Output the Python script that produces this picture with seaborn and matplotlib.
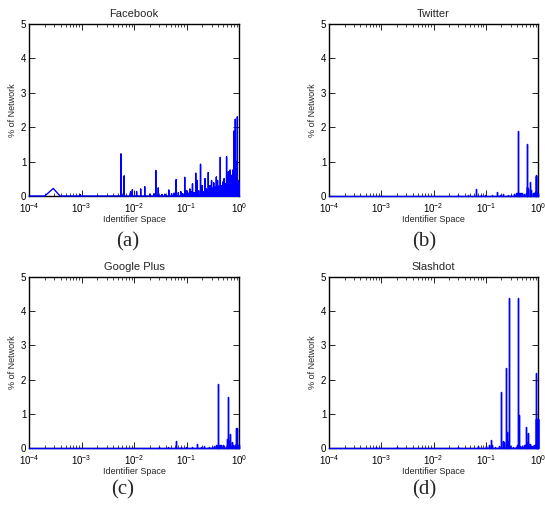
import numpy as np
import pandas as pd
import matplotlib
matplotlib.use("Agg")
import matplotlib.pyplot as plt
from matplotlib.ticker import LogLocator, NullFormatter
import seaborn as sns

# ==========================================
# 1. DADOS
# ==========================================
# Facebook: picos (posição no espaço de identificadores, % da rede)
fb_x = [0.00095, 0.00565, 0.0065, 0.0086, 0.0093, 0.0112, 0.0134, 0.016, 0.020, 0.024,
        0.026, 0.029, 0.034, 0.0389, 0.046, 0.052, 0.058, 0.0634, 0.070, 0.078,
        0.085, 0.0925, 0.10, 0.108, 0.116, 0.123, 0.13, 0.14, 0.15, 0.16,
        0.17, 0.185, 0.20, 0.21, 0.225, 0.24, 0.26, 0.28, 0.30, 0.315,
        0.33, 0.35, 0.37, 0.39, 0.41, 0.44, 0.46, 0.49, 0.52, 0.55,
        0.58, 0.60, 0.63, 0.655, 0.68, 0.70, 0.73, 0.76, 0.78, 0.81,
        0.83, 0.85, 0.87, 0.89, 0.91, 0.93, 0.95, 0.97, 0.99, 1.0]
fb_y = [0.04, 1.22, 0.58, 0.12, 0.18, 0.13, 0.20, 0.27, 0.05, 0.06,
        0.74, 0.23, 0.04, 0.05, 0.17, 0.06, 0.08, 0.47, 0.10, 0.12,
        0.06, 0.54, 0.15, 0.08, 0.20, 0.12, 0.35, 0.10, 0.66, 0.45,
        0.15, 0.92, 0.30, 0.12, 0.50, 0.20, 0.68, 0.30, 0.45, 0.22,
        0.38, 0.25, 0.55, 0.45, 0.28, 1.12, 0.30, 0.40, 0.50, 0.35,
        1.14, 0.45, 0.70, 0.40, 0.75, 0.50, 0.60, 0.75, 0.55, 1.89,
        0.70, 2.23, 0.60, 1.00, 0.50, 2.30, 0.45, 0.40, 0.38, 0.38]
# pequeno triângulo perto de 3e-4
fb_bump_x = [2.0e-4, 2.9e-4, 3.9e-4]
fb_bump_y = [0.0, 0.22, 0.0]

tw_x = [0.030, 0.045, 0.065, 0.080, 0.098, 0.13, 0.162, 0.19, 0.217, 0.27,
        0.30, 0.34, 0.38, 0.40, 0.414, 0.43, 0.45, 0.47, 0.50, 0.53,
        0.59, 0.61, 0.624, 0.65, 0.70, 0.74, 0.80, 0.85, 0.88, 0.90,
        0.92, 0.97, 1.0]
tw_y = [0.02, 0.03, 0.20, 0.02, 0.03, 0.03, 0.12, 0.02, 0.05, 0.04,
        0.03, 0.05, 0.08, 0.10, 1.89, 0.08, 0.10, 0.08, 0.10, 0.06,
        0.10, 0.25, 1.51, 0.20, 0.40, 0.17, 0.08, 0.10, 0.12, 0.60,
        0.58, 0.10, 0.08]

gp_x = [0.030, 0.045, 0.0625, 0.080, 0.098, 0.13, 0.16, 0.19, 0.215, 0.27,
        0.30, 0.34, 0.37, 0.39, 0.40, 0.42, 0.44, 0.46, 0.49, 0.52,
        0.58, 0.60, 0.61, 0.64, 0.68, 0.72, 0.78, 0.83, 0.86, 0.88,
        0.91, 0.96, 1.0]
gp_y = [0.02, 0.03, 0.20, 0.02, 0.03, 0.03, 0.12, 0.02, 0.05, 0.04,
        0.03, 0.05, 0.08, 0.10, 1.88, 0.08, 0.10, 0.08, 0.10, 0.06,
        0.10, 0.25, 1.50, 0.20, 0.40, 0.17, 0.08, 0.10, 0.12, 0.58,
        0.58, 0.10, 0.08]

sd_x = [0.0008, 0.002, 0.030, 0.072, 0.10, 0.117, 0.124, 0.13, 0.15, 0.18,
        0.20, 0.21, 0.225, 0.24, 0.25, 0.26, 0.279, 0.29, 0.33, 0.38,
        0.40, 0.42, 0.44, 0.46, 0.50, 0.55, 0.58, 0.60, 0.62, 0.65,
        0.68, 0.70, 0.74, 0.77, 0.84, 0.88, 0.91, 0.93, 0.95, 0.97,
        0.99, 1.0]
sd_y = [0.04, 0.04, 0.02, 0.05, 0.05, 0.10, 0.23, 0.08, 0.04, 0.05,
        1.64, 0.20, 0.18, 2.33, 0.20, 0.48, 4.38, 0.05, 0.04, 0.04,
        0.08, 4.38, 0.96, 0.05, 0.05, 0.10, 0.60, 0.12, 0.15, 0.43,
        0.12, 0.12, 0.05, 0.05, 0.08, 0.10, 2.18, 0.84, 0.84, 0.84,
        0.84, 0.84]

TITLES = ['Facebook', 'Twitter', 'Google Plus', 'Slashdot']
CAPTIONS = ['(a)', '(b)', '(c)', '(d)']

# ==========================================
# 2. CONFIGURAÇÕES
# ==========================================
sns.set_style("ticks")
plt.rcParams['font.family'] = ['Liberation Sans', 'DejaVu Sans']
plt.rcParams['mathtext.default'] = 'regular'
plt.rcParams['axes.linewidth'] = 1.0
plt.rcParams['axes.edgecolor'] = 'black'


def spike_path(xs, ys, bump_x=(), bump_y=()):
    # cada pico vira uma linha vertical: base -> topo -> base
    segs = [list(zip([x, x, x], [0.0, y, 0.0])) for x, y in zip(xs, ys)]
    if len(bump_x):
        segs.append(list(zip(bump_x, bump_y)))
    segs.sort(key=lambda s: s[0][0])
    pts = [(1e-4, 0.0)]
    for s in segs:
        pts.extend(s)
    return pd.DataFrame(pts, columns=['x', 'y'])


PANELS = [
    spike_path(fb_x, fb_y, fb_bump_x, fb_bump_y),
    spike_path(tw_x, tw_y),
    spike_path(gp_x, gp_y),
    spike_path(sd_x, sd_y),
]

# posições dos eixos em pixels (esquerda, topo, direita, base)
W, H = 545, 508
BOXES = [(29, 24, 239, 196), (329, 24, 538, 196),
         (29, 277, 239, 448), (329, 277, 538, 448)]
CAP_POS = [(128, 242), (424, 242), (123, 490), (424, 490)]

# ==========================================
# 3. PLOTAGEM
# ==========================================
fig = plt.figure(figsize=(W / 100, H / 100), dpi=100)

for df, title, cap, (l, t, r, b), (cx, cy) in zip(PANELS, TITLES, CAPTIONS, BOXES, CAP_POS):
    ax = fig.add_axes([l / W, 1 - b / H, (r - l) / W, (b - t) / H])
    ax.set_xscale('log')
    sns.lineplot(data=df, x='x', y='y', estimator=None, sort=False,
                 color='#0000ff', linewidth=1.0, ax=ax, zorder=3)
    for line in ax.get_lines():
        line.set_clip_on(False)

    ax.set_xlim(1e-4, 1)
    ax.set_ylim(0, 5)
    ax.set_yticks(range(6))
    ax.xaxis.set_major_locator(LogLocator(base=10, numticks=10))
    ax.xaxis.set_minor_locator(LogLocator(base=10, subs=np.arange(2, 10), numticks=20))
    ax.xaxis.set_minor_formatter(NullFormatter())
    ax.tick_params(which='both', direction='in', top=True, right=True,
                   colors='black', labelsize=7)
    ax.tick_params(axis='x', pad=3.5)
    ax.tick_params(axis='y', pad=2)
    ax.tick_params(which='major', length=4, width=0.6)
    ax.tick_params(which='minor', length=2, width=0.5)

    ax.set_title(title, fontsize=8, pad=5)
    ax.set_xlabel('Identifier Space', fontsize=6.5, labelpad=0)
    ax.set_ylabel('% of Network', fontsize=6.5, labelpad=3)
    for sp in ax.spines.values():
        sp.set_visible(True)
        sp.set_linewidth(1.0)

    fig.text(cx / W, 1 - cy / H, cap, ha='center', va='center',
             fontsize=15, family=['Liberation Serif', 'DejaVu Serif'])

plt.savefig('out.png', dpi=100)
plt.close()
